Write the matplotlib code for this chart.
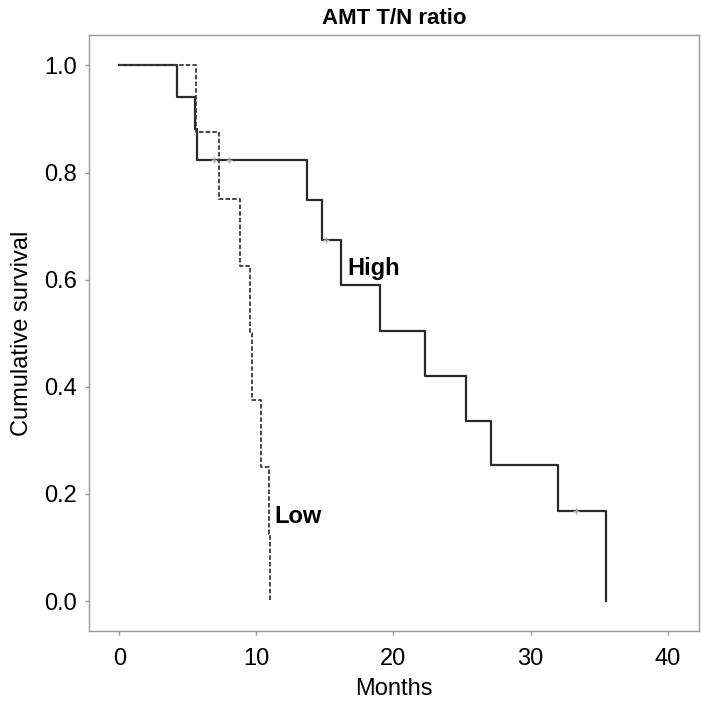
import matplotlib
matplotlib.use('Agg')
import matplotlib.pyplot as plt

# Kaplan-Meier steps
high_times = [0, 4.2, 5.5, 5.7, 13.7, 14.8, 16.2, 19.0, 22.3, 25.3, 27.1, 32.0, 35.5]
high_surv = [1.0, 0.941, 0.882, 0.824, 0.749, 0.674, 0.590, 0.505, 0.421, 0.337, 0.253, 0.168, 0.0]
high_cens_t = [6.9, 8.0, 15.1, 33.3]
high_cens_s = [0.824, 0.824, 0.674, 0.168]

low_times = [0, 5.6, 7.3, 8.8, 9.5, 9.7, 10.3, 10.9, 11.0]
low_surv = [1.0, 0.875, 0.75, 0.625, 0.5, 0.375, 0.25, 0.125, 0.0]

x_ticks = [0, 10, 20, 30, 40]
y_ticks = [0.0, 0.2, 0.4, 0.6, 0.8, 1.0]

plt.rcParams['font.family'] = ['Liberation Sans', 'DejaVu Sans']

fig = plt.figure(figsize=(7.02, 7.04), dpi=100)
ax = fig.add_axes([0.127, 0.1037, 0.869, 0.846])

ax.step(high_times, high_surv, where='post', color='#2a2a2a', lw=1.6)
ax.step(low_times, low_surv, where='post', color='#3a3a3a', lw=1.3, linestyle=(0, (2.5, 1.2)))
ax.plot(high_cens_t, high_cens_s, '+', color='#aaaaaa', ms=5, mew=1)

ax.text(16.6, 0.62, 'High', fontsize=17, fontweight='bold', va='center', ha='left')
ax.text(11.3, 0.157, 'Low', fontsize=17, fontweight='bold', va='center', ha='left')

ax.set_xlim(-2.2, 42.3)
ax.set_ylim(-0.056, 1.056)
ax.set_xticks(x_ticks)
ax.set_yticks(y_ticks)
ax.set_yticklabels(['%.1f' % v for v in y_ticks])
ax.tick_params(labelsize=17, length=3, color='#999999', width=1)
ax.tick_params(axis='y', pad=6)
ax.tick_params(axis='x', pad=9)
for sp in ax.spines.values():
    sp.set_color('#999999')
    sp.set_linewidth(1)

ax.set_xlabel('Months', fontsize=17, labelpad=6)
ax.set_ylabel('Cumulative survival', fontsize=17, labelpad=8)
ax.set_title('AMT T/N ratio', fontsize=16, fontweight='bold',
             family=['Liberation Sans Narrow', 'Liberation Sans'], pad=8)

fig.savefig('out.png', dpi=100)
